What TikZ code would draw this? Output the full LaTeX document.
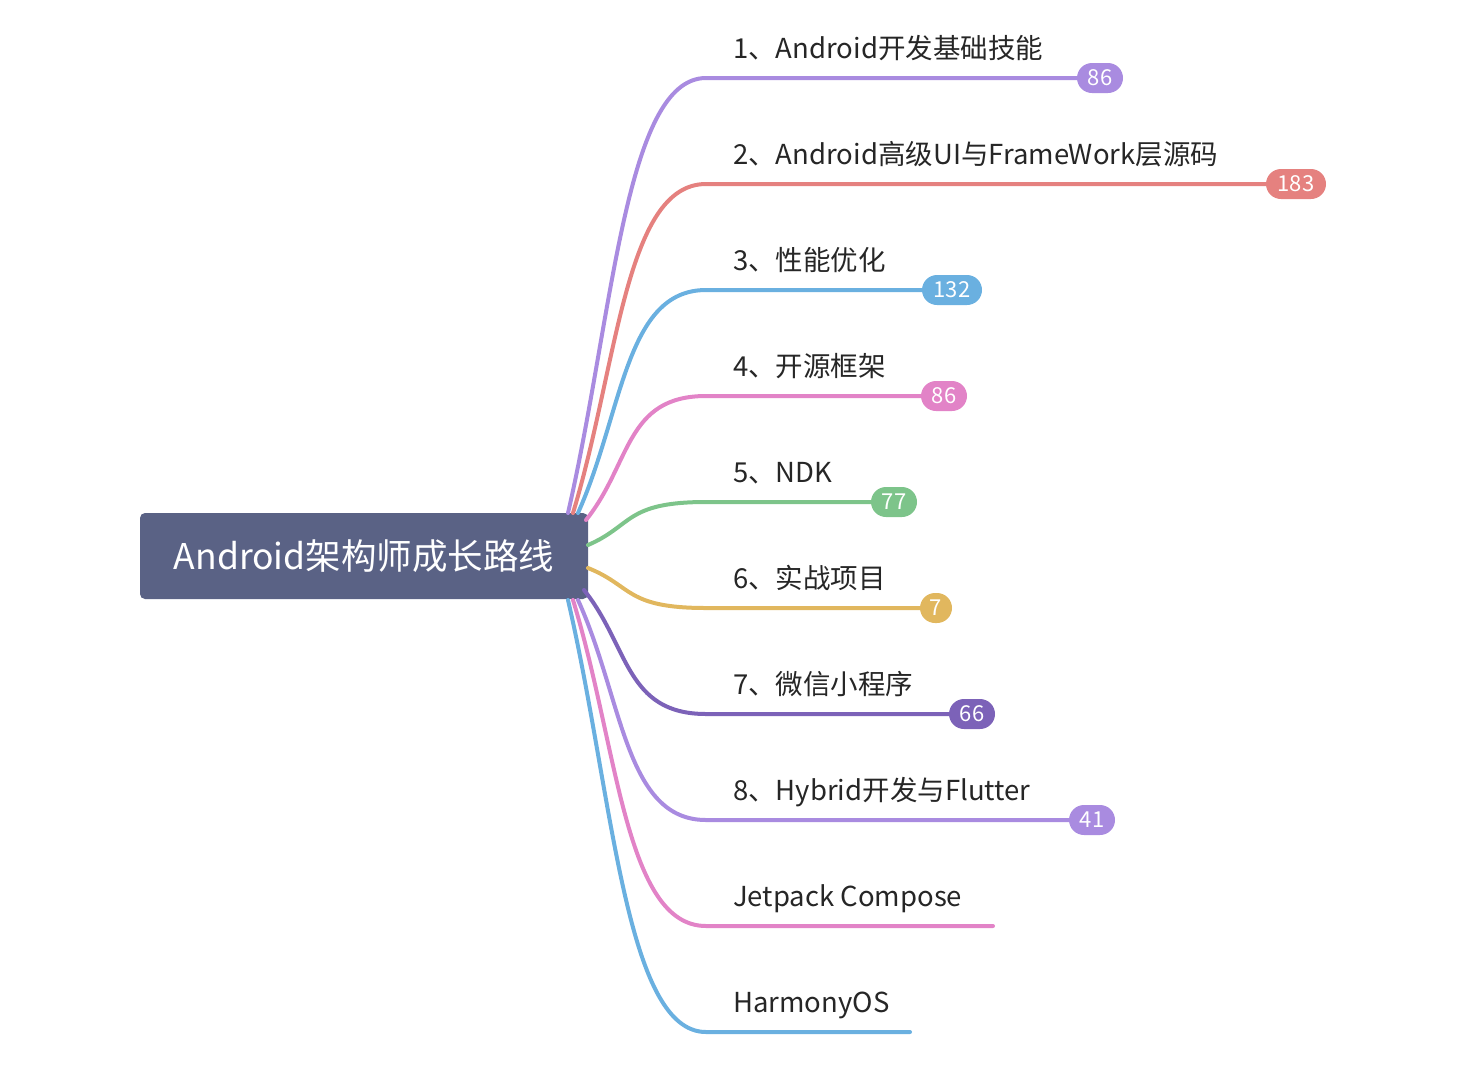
\documentclass[tikz,border=0pt]{standalone}
\usepackage{fontspec}
\setmainfont{Noto Sans CJK SC}
\definecolor{cA}{HTML}{A98BE0}
\definecolor{cB}{HTML}{E5817F}
\definecolor{cC}{HTML}{6AB0E0}
\definecolor{cD}{HTML}{E283C7}
\definecolor{cE}{HTML}{7DC48A}
\definecolor{cF}{HTML}{E1B75E}
\definecolor{cG}{HTML}{7C62B8}
\definecolor{rootc}{HTML}{5A6285}
\tikzset{
 br/.style={line width=4pt,line cap=round},
 lab/.style={anchor=base west,font=\fontsize{27.5}{32}\selectfont,text=black!85,inner sep=0pt},
 badge/.style={rounded corners=15pt,minimum height=30pt,inner sep=0pt,text=white,font=\fontsize{22}{26}\selectfont}
}
\begin{document}
\begin{tikzpicture}[x=1pt,y=-1pt]
\useasboundingbox (0,0) rectangle (1476,1080);
\node[fill=rootc,rounded corners=5pt,minimum width=448pt,minimum height=86pt,text=white,font=\fontsize{35.5}{40}\selectfont] (root) at (364,556) {Android架构师成长路线};
\foreach \i/\sx/\sy/\y/\ex/\c/\t in {
 1/568/513/78/1100/cA/{1、Android开发基础技能},
 2/573/513/184/1296/cB/{2、Android高级UI与FrameWork层源码},
 3/578/513/290/952/cC/{3、性能优化},
 4/586/520/396/944/cD/{4、开源框架},
 5/588/545/502/894/cE/{5、NDK},
 6/588/568/608/936/cF/{6、实战项目},
 7/584/590/714/972/cG/{7、微信小程序},
 8/578/600/820/1092/cA/{8、Hybrid开发与Flutter},
 9/573/600/926/993/cD/{Jetpack Compose},
 10/568/600/1032/910/cC/{HarmonyOS}}{
 \coordinate (s\i) at (\sx,\sy);
 \coordinate (e\i) at (\ex,\y);
 \draw[br,\c] (s\i) .. controls (\sx+45,{\sy+(\y-\sy)*0.45}) and (625,\y) .. (706,\y) -- (e\i);
 \node[lab] (l\i) at (733,\y-20) {\t};
}
\foreach \i/\w/\c/\n in {1/46/cA/86,2/60/cB/183,3/60/cC/132,4/46/cD/86,5/46/cE/77,6/32/cF/7,7/46/cG/66,8/46/cA/41}{
 \node[badge,fill=\c,minimum width=\w pt] (b\i) at (e\i) {\n};
}
\end{tikzpicture}
\end{document}
